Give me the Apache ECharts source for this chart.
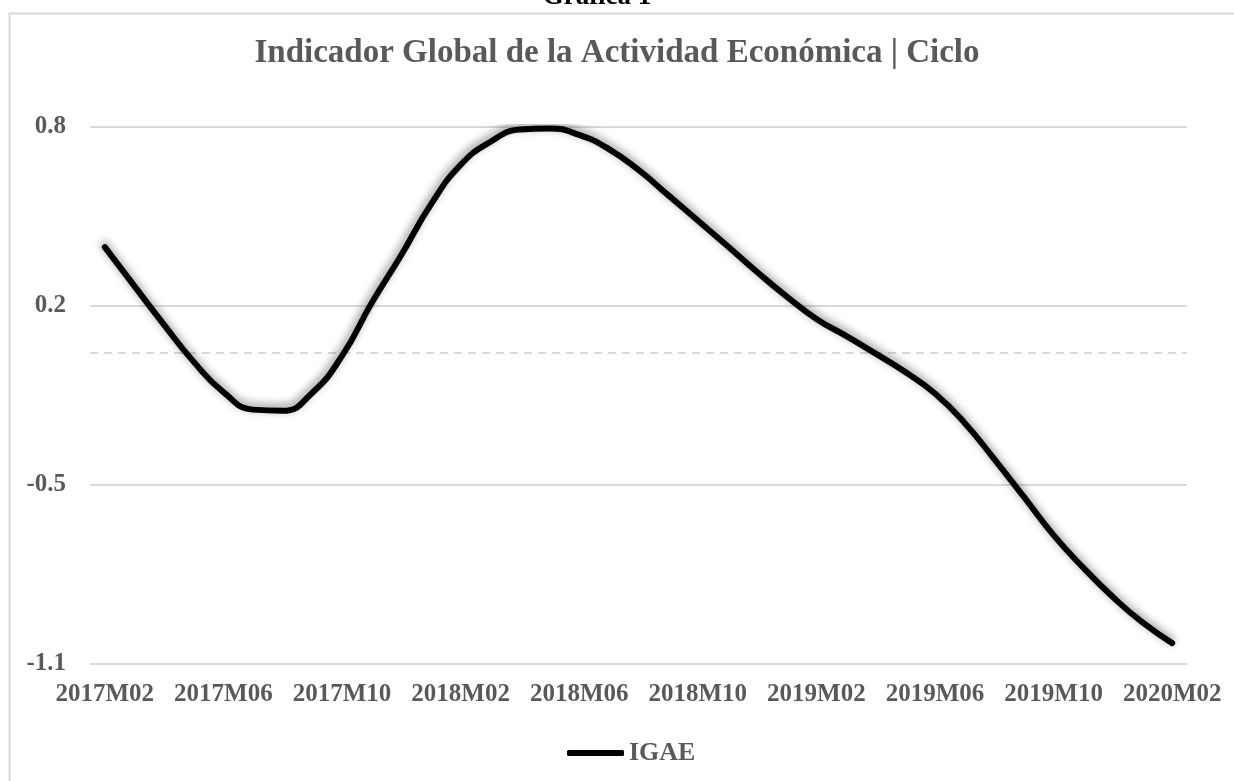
<!DOCTYPE html>
<html>
<head>
<meta charset="utf-8">
<script src="https://cdn.jsdelivr.net/npm/echarts@6/dist/echarts.min.js"></script>
<style>html,body{margin:0;padding:0;background:#fff;}#c{width:1234px;height:781px;}</style>
</head>
<body>
<div id="c"></div>
<script>
var categories = ['2017M02','2017M03','2017M04','2017M05','2017M06','2017M07','2017M08','2017M09','2017M10','2017M11','2017M12',
 '2018M01','2018M02','2018M03','2018M04','2018M05','2018M06','2018M07','2018M08','2018M09','2018M10','2018M11','2018M12',
 '2019M01','2019M02','2019M03','2019M04','2019M05','2019M06','2019M07','2019M08','2019M09','2019M10','2019M11','2019M12',
 '2020M01','2020M02'];
var igae = [0.375,0.237,0.100,-0.031,-0.138,-0.200,-0.204,-0.140,-0.010,0.177,0.347,
 0.526,0.666,0.747,0.791,0.795,0.772,0.722,0.648,0.559,0.469,0.379,0.287,
 0.200,0.121,0.061,-0.002,-0.067,-0.143,-0.247,-0.375,-0.509,-0.644,-0.759,-0.863,
 -0.953,-1.026];
var zeroLine = 0;
var yMin = -1.1, yMax = 0.8;
var chartTitle = 'Indicador Global de la Actividad Económica | Ciclo';
var figTitle = 'Gráfica 1';
var seriesName = 'IGAE';

var FONT = '"Liberation Serif", "Times New Roman", serif';
var GRAY = '#595959';
var chart = echarts.init(document.getElementById('c'));
chart.setOption({
  animation: false,
  backgroundColor: '#fff',
  graphic: [
    {type:'rect', left:7, top:11, shape:{x:0,y:0,width:1240,height:800}, style:{fill:'none', stroke:'#d9d9d9', lineWidth:2}, silent:true},
    {type:'text', x:597, y:11, style:{text:figTitle, font:'bold 27px ' + FONT, fill:'#000', textAlign:'center', textVerticalAlign:'bottom'}}
  ],
  title: {
    text: chartTitle,
    left: 'center',
    top: 32,
    textStyle: {fontFamily: FONT, fontWeight: 'bold', fontSize: 33, color: GRAY}
  },
  legend: {
    data: [seriesName],
    left: 562,
    top: 735,
    icon: 'roundRect',
    itemWidth: 57,
    itemHeight: 6,
    itemGap: 5,
    textStyle: {fontFamily: FONT, fontWeight: 'bold', fontSize: 26, color: GRAY}
  },
  grid: {left: 90, right: 47, top: 127, bottom: 117, containLabel: false},
  xAxis: {
    type: 'category',
    data: categories,
    boundaryGap: true,
    axisLine: {show: false},
    axisTick: {show: false},
    axisLabel: {interval: 3, margin: 18, fontFamily: FONT, fontWeight: 'bold', fontSize: 25, color: GRAY}
  },
  yAxis: {
    type: 'value',
    min: yMin,
    max: yMax,
    interval: (yMax - yMin) / 3,
    axisLine: {show: false},
    axisTick: {show: false},
    splitLine: {lineStyle: {color: '#d9d9d9', width: 2}},
    axisLabel: {margin: 24, fontFamily: FONT, fontWeight: 'bold', fontSize: 25, color: GRAY,
      formatter: function (v) { return (Math.round(v * 10) / 10).toFixed(1); }}
  },
  series: [{
    name: 'zero',
    type: 'line',
    data: [],
    z: 1,
    silent: true,
    markLine: {
      silent: true,
      symbol: 'none',
      label: {show: false},
      emphasis: {disabled: true},
      lineStyle: {color: '#d9d9d9', type: [8, 6], width: 2},
      data: [{yAxis: zeroLine}]
    }
  }, {
    name: seriesName,
    type: 'line',
    data: igae,
    z: 5,
    smooth: 0.5,
    symbol: 'none',
    lineStyle: {color: '#000', width: 6, cap: 'round', shadowColor: 'rgba(0,0,0,0.45)', shadowBlur: 8, shadowOffsetX: -1, shadowOffsetY: -3},
    itemStyle: {color: '#000'}
  }]
});
</script>
</body>
</html>
